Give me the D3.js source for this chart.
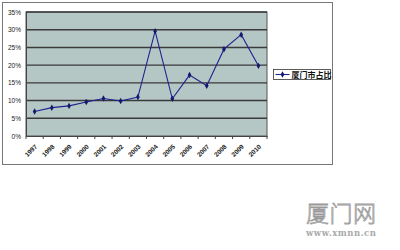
<!DOCTYPE html>
<html>
<head>
<meta charset="utf-8">
<script src="https://cdn.jsdelivr.net/npm/d3@7"></script>
<style>
  body { margin: 0; background: #fff; }
  svg { display: block; }
</style>
</head>
<body>
<div id="chart-area"></div>
<script>
// data
var years = ['1997', '1998', '1999', '2000', '2001', '2002', '2003',
             '2004', '2005', '2006', '2007', '2008', '2009', '2010'];
var shares = [6.9, 8.0, 8.5, 9.6, 10.6, 9.9, 11.0,
              29.6, 10.5, 17.2, 14.2, 24.5, 28.6, 19.8];
var yTicks = [0, 5, 10, 15, 20, 25, 30, 35];
var seriesName = '厦门市占比';

var svg = d3.select('#chart-area')
  .append('svg')
    .attr('width', 400)
    .attr('height', 250);

// outer chart frame
svg.append('rect')
  .attr('x', 2.5).attr('y', 2.5)
  .attr('width', 330).attr('height', 162)
  .attr('fill', '#fff')
  .attr('stroke', '#777')
  .attr('stroke-width', 1);

var margin = { left: 26, top: 12, right: 267, bottom: 136 };

var x = d3.scaleBand()
  .domain(years)
  .range([margin.left, margin.right]);

var y = d3.scaleLinear()
  .domain([0, 35])
  .range([margin.bottom, margin.top]);

// plot area
svg.append('rect')
  .attr('x', margin.left)
  .attr('y', y(35))
  .attr('width', margin.right - margin.left)
  .attr('height', y(0) - y(35))
  .attr('fill', '#b4c7c4')
  .attr('stroke', '#555')
  .attr('stroke-width', 1);

// gridlines
svg.selectAll('.grid')
  .data(yTicks.slice(1))
  .enter().append('line')
    .attr('class', 'grid')
    .attr('x1', margin.left)
    .attr('x2', margin.right)
    .attr('y1', function(d) { return y(d); })
    .attr('y2', function(d) { return y(d); })
    .attr('stroke', '#3a3a3a')
    .attr('stroke-width', 1.4);

// Y axis
var yAxisCall = d3.axisLeft(y)
  .tickValues(yTicks)
  .tickSize(0)
  .tickPadding(5)
  .tickFormat(function(d) { return d + '%'; });

var yAxisGroup = svg.append('g')
  .attr('transform', 'translate(' + margin.left + ', 0)')
  .call(yAxisCall);
yAxisGroup.select('.domain').attr('stroke', '#444');
yAxisGroup.selectAll('text')
  .attr('font-family', 'Arial, "Liberation Sans", sans-serif')
  .attr('font-size', '6.5px')
  .attr('fill', '#222');

// X axis
var xAxisCall = d3.axisBottom(x)
  .tickSize(0);

var xAxisGroup = svg.append('g')
  .attr('transform', 'translate(0, ' + margin.bottom + ')')
  .call(xAxisCall);
xAxisGroup.select('.domain').attr('stroke', '#444').attr('stroke-width', 1.2);
xAxisGroup.selectAll('text')
  .attr('font-family', 'Arial, "Liberation Sans", sans-serif')
  .attr('font-size', '6.5px')
  .attr('font-weight', 'bold')
  .attr('fill', '#222')
  .attr('text-anchor', 'end')
  .attr('dy', '0')
  .attr('transform', 'translate(1, 9) rotate(-45)');

// tick marks on band edges
var edges = years.map(function(d) { return x(d); }).concat([margin.right]);
svg.selectAll('.xtick')
  .data(edges)
  .enter().append('line')
    .attr('class', 'xtick')
    .attr('x1', function(d) { return d; })
    .attr('x2', function(d) { return d; })
    .attr('y1', margin.bottom)
    .attr('y2', margin.bottom + 3)
    .attr('stroke', '#444');

// line
var line = d3.line()
  .x(function(d, i) { return x(years[i]) + x.bandwidth() / 2; })
  .y(function(d) { return y(d); });

svg.append('path')
  .datum(shares)
  .attr('d', line)
  .attr('fill', 'none')
  .attr('stroke', '#1f2390')
  .attr('stroke-width', 1.1);

svg.selectAll('.pt')
  .data(shares)
  .enter().append('path')
    .attr('class', 'pt')
    .attr('d', d3.symbol().type(d3.symbolDiamond).size(12))
    .attr('transform', function(d, i) {
      return 'translate(' + (x(years[i]) + x.bandwidth() / 2) + ',' + y(d) + ')';
    })
    .attr('fill', '#141870');

// legend
var legend = svg.append('g').attr('transform', 'translate(273.5, 69.5)');
legend.append('rect')
  .attr('width', 57).attr('height', 10)
  .attr('fill', '#fff')
  .attr('stroke', '#333')
  .attr('stroke-width', 0.8);
legend.append('line')
  .attr('x1', 2).attr('x2', 16)
  .attr('y1', 5).attr('y2', 5)
  .attr('stroke', '#1f2390')
  .attr('stroke-width', 1.1);
legend.append('path')
  .attr('d', d3.symbol().type(d3.symbolDiamond).size(12))
  .attr('transform', 'translate(9, 5)')
  .attr('fill', '#141870');
legend.append('text')
  .attr('x', 18).attr('y', 8.3)
  .attr('font-family', '"Noto Sans CJK SC", sans-serif')
  .attr('font-size', '8px')
  .attr('font-weight', 'bold')
  .attr('fill', '#111')
  .text(seriesName);

// watermark
svg.append('text')
  .attr('x', 341).attr('y', 222)
  .attr('text-anchor', 'middle')
  .attr('font-family', '"Noto Sans CJK SC", sans-serif')
  .attr('font-size', '23px')
  .attr('font-weight', '300')
  .attr('fill', '#fff')
  .attr('stroke', '#999')
  .attr('stroke-width', 0.8)
  .attr('textLength', 70)
  .text('厦门网');
svg.append('text')
  .attr('x', 341).attr('y', 236)
  .attr('text-anchor', 'middle')
  .attr('font-family', '"DejaVu Serif", serif')
  .attr('font-size', '8.5px')
  .attr('font-weight', 'bold')
  .attr('fill', '#aaa')
  .attr('textLength', 70)
  .text('www.xmnn.cn');
</script>
</body>
</html>
